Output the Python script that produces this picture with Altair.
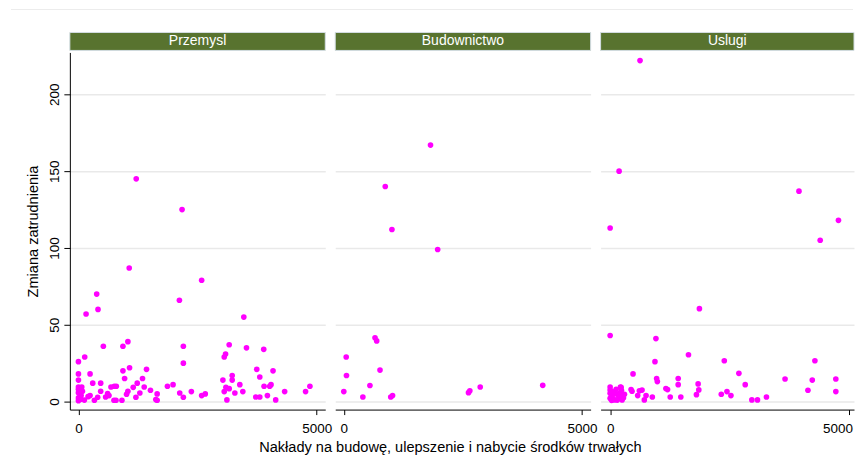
import altair as alt
import pandas as pd

FONT = "Liberation Sans"

sectors = ["Przemysl", "Budownictwo", "Uslugi"]
x_title = "Nakłady na budowę, ulepszenie i nabycie środków trwałych"
y_title = "Zmiana zatrudnienia"
x_ticks = [0, 5000]
y_ticks = [0, 50, 100, 150, 200]

przemysl_x = [1213, 2175, 1066, 2586, 2119, 383, 411, 160, 3471,
              1038, 2202, 523, 934, 3164, 3527, 3889, 3060, 3088, 132, 0, 2202, 1073, 1429, 3743,
              4084, 934, 0, 244, 3227, 3806, 969, 1345, 0, 3032, 3227, 300, 467, 1234, 3387, 1986,
              1868, 3896, 4042, 4014, 4858, 795, 753, 683, 1380, 1150, 0, 70, 3095, 3164, 0, 84,
              467, 1038, 1512, 2370, 3060, 3450, 4328, 4767, 0, 35, 56, 1652, 1289, 3283, 2126,
              2662, 2586, 613, 641, 571, 1010, 244, 202, 3966, 3722, 3806, 2202, 1206, 404, 0, 56,
              125, 335, 746, 788, 913, 1624, 1652, 3116, 4140, 0]
przemysl_y = [145, 125, 87, 79, 66, 70, 60, 57, 55,
              39, 36, 36, 36, 37, 35, 34, 29, 31, 29, 26, 25, 22, 21, 21,
              20, 20, 18, 18, 17, 16, 15, 15, 14, 14, 14, 12, 12, 12, 11, 11,
              10, 10, 11, 10, 10, 10, 10, 9.5, 9.5, 9.3, 9.5, 9.5, 9.3, 8.4, 8, 6.7,
              6.7, 6.7, 7.4, 6.5, 6.5, 6.5, 6.5, 6.5, 5.8, 5, 4, 5, 5.6, 5.6, 5.6,
              5, 3.9, 5.2, 3.9, 3, 4.8, 3.9, 3.2, 3.9, 3, 3, 2.8, 2.8, 2.8, 2.4, 1.5,
              1, 0.9, 0.9, 0.9, 0.9, 1.3, 0.9, 1.1, 1.1, 0.6]

budownictwo_x = [1820, 870, 1010, 1970, 655, 690, 50, 56, 760, 0, 548, 400,
                 985, 1023, 2617, 2645, 2863, 4175]
budownictwo_y = [167, 140, 112, 99, 41.5, 39.5, 29, 17, 20.5, 6.5, 10.5, 3,
                 3, 3.9, 5.8, 7, 9.5, 10.6]

uslugi_x = [627, 188, 3960, 4788, 4405, 0, 1872, 0, 960, 1643, 2394, 4294, 940,
            480, 2700, 2833, 3668, 4239, 4733, 4733, 4148, 975, 990, 1427, 1427,
            1845, 1859, 1810, 2331, 2450, 2533, 2972, 3090, 3278, 1169, 1204, 1260,
            1482, 885, 753, 717, 669, 613, 578, 439, 459, 216, 237,
            0, 0, 0, 42, 90, 90, 146, 181, 251, 265, 300, 42, 125, 0, 60, 150, 200,
            30, 280, 230]
uslugi_y = [222, 150, 137, 118, 105, 113, 60.5, 43, 41, 30.5, 26.6, 26.6, 26,
            18, 18.4, 11, 14.7, 14, 14.7, 6.5, 7.4, 15, 13, 15, 11,
            11.5, 7.6, 4.5, 4.8, 6.5, 3.9, 1.1, 1.1, 3, 8.5, 7.8, 3,
            3, 3, 3.9, 1.1, 7.5, 7, 3.9, 7.8, 6.7, 9.5, 7.4,
            9.5, 5.4, 2.2, 3.9, 5.6, 1.1, 4.8, 2.2, 1.1, 3.9, 4.8, 6.5, 8, 7.5, 2, 1, 5.5,
            0.8, 2.5, 9.3]

xs = [przemysl_x, budownictwo_x, uslugi_x]
ys = [przemysl_y, budownictwo_y, uslugi_y]

H = 358
WIDTHS = [256, 256, 254]
XDOMS = [[-180, 5180], [-180, 5180], [-200, 5114]]
YDOM = [-5.2, 227.3]
MAGENTA = "#FF00FF"
GREEN = "#58732F"


def panel(i):
    name = sectors[i]
    W = WIDTHS[i]
    df = pd.DataFrame({"x": xs[i], "y": ys[i]})
    first = i == 0
    mid = i == 1
    last = i == 2

    xaxis_kw = dict(values=x_ticks, grid=False, tickSize=5, labelPadding=7,
                    labelFlush=False, domainColor="black", tickColor="black",
                    labelColor="black", labelFontSize=13.5, format="d")
    if last:
        xaxis_kw.update(
            labelAlign={"condition": {"test": "datum.value == 5000", "value": "right"},
                        "value": "center"},
            labelOffset={"condition": {"test": "datum.value == 5000", "value": 4},
                         "value": 0},
        )
    if mid:
        xaxis_kw.update(titleX=115, titlePadding=5, titleFontSize=14.6,
                        titleFontWeight="normal", titleColor="black")
    yaxis_kw = dict(values=y_ticks, grid=True, gridColor="#E9E9E9", gridWidth=1.5,
                    domain=first, ticks=first, labels=first)
    if first:
        yaxis_kw.update(tickSize=6, labelPadding=2, labelAngle=270, labelAlign="center",
                        labelBaseline="bottom", labelFontSize=13.5, labelColor="black",
                        domainColor="black", tickColor="black", titlePadding=7,
                        titleFontSize=14.6, titleFontWeight="normal", titleColor="black")

    pts = alt.Chart(df).mark_circle(size=32, color=MAGENTA, opacity=1).encode(
        x=alt.X("x:Q", scale=alt.Scale(domain=XDOMS[i], nice=False, zero=False),
                axis=alt.Axis(**xaxis_kw), title=x_title if mid else None),
        y=alt.Y("y:Q", scale=alt.Scale(domain=YDOM, nice=False, zero=False),
                axis=alt.Axis(**yaxis_kw), title=y_title if first else None),
    )

    hdr = pd.DataFrame({"sector": [name]})
    rect = alt.Chart(hdr).mark_rect(fill=GREEN, stroke="#D3DDE3", strokeWidth=1).encode(
        x=alt.value(0), x2=alt.value(W), y=alt.value(-20), y2=alt.value(-2))
    txt = alt.Chart(hdr).mark_text(color="white", fontSize=14, font=FONT,
                                   align="center", baseline="middle").encode(
        x=alt.value(W / 2), y=alt.value(-11), text="sector:N")
    layers = [pts, rect, txt]
    if first:
        top = alt.Chart(hdr).mark_rule(color="#ECECEC", strokeWidth=1).encode(
            x=alt.value(-59), x2=alt.value(785), y=alt.value(-43))
        layers.append(top)
    return alt.layer(*layers).properties(width=W, height=H)


chart = alt.hconcat(panel(0), panel(1), panel(2), spacing=10, bounds="flush").properties(
    padding={"left": 2, "top": 0, "right": 0, "bottom": 0}
).configure_view(strokeWidth=0).configure_axis(
    labelFont=FONT, titleFont=FONT
)

chart.save("out.html", embed_options={"renderer": "svg", "actions": False})
